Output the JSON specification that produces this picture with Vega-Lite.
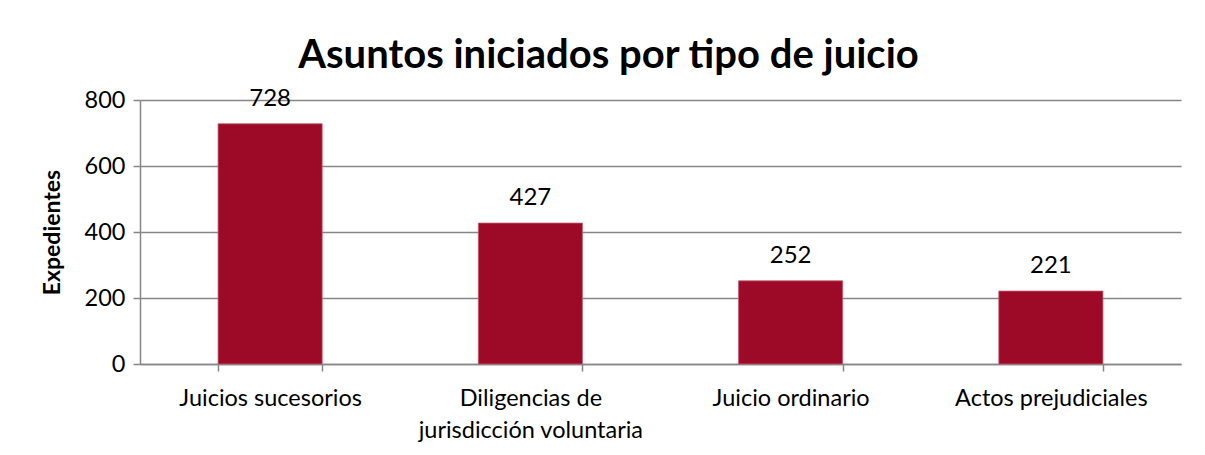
{
  "$schema": "https://vega.github.io/schema/vega-lite/v6.json",
  "width": 1041,
  "height": 264,
  "autosize": {"type": "none"},
  "padding": {"left": 140, "top": 100, "right": 24, "bottom": 91},
  "background": "white",
  "title": {
    "text": "Asuntos iniciados por tipo de juicio",
    "font": "Lato",
    "fontSize": 40,
    "fontWeight": "bold",
    "color": "#000000",
    "anchor": "middle",
    "dx": -52,
    "dy": 51,
    "baseline": "alphabetic",
    "offset": 30
  },
  "data": {
    "values": [
      {"tipo": "Juicios sucesorios", "expedientes": 728},
      {"tipo": "Diligencias de jurisdicción voluntaria", "expedientes": 427},
      {"tipo": "Juicio ordinario", "expedientes": 252},
      {"tipo": "Actos prejudiciales", "expedientes": 221}
    ]
  },
  "encoding": {
    "x": {
      "field": "tipo",
      "type": "nominal",
      "sort": null,
      "scale": {"paddingInner": 0.6, "paddingOuter": 0.3},
      "axis": {
        "title": null,
        "labelAngle": 0,
        "labelFont": "Lato",
        "labelFontSize": 23.5,
        "labelColor": "#000000",
        "labelPadding": 15,
        "labelBaseline": "top",
        "labelLineHeight": 32,
        "labelLimit": 0,
        "labelExpr": "datum.label == 'Diligencias de jurisdicción voluntaria' ? ['Diligencias de', 'jurisdicción voluntaria'] : datum.label",
        "domainColor": "#868686",
        "domainWidth": 1.5,
        "tickColor": "#868686",
        "tickWidth": 1.5,
        "tickSize": 7,
        "tickBand": "extent",
        "grid": false
      }
    },
    "y": {
      "field": "expedientes",
      "type": "quantitative",
      "scale": {"domain": [0, 800]},
      "axis": {
        "title": "Expedientes",
        "titleFont": "Lato",
        "titleFontSize": 23,
        "titleFontWeight": "bold",
        "titleColor": "#000000",
        "titlePadding": 20,
        "values": [0, 200, 400, 600, 800],
        "labelFont": "Lato",
        "labelFontSize": 23.5,
        "labelColor": "#000000",
        "labelPadding": 8,
        "domainColor": "#868686",
        "domainWidth": 1.5,
        "tickColor": "#868686",
        "tickWidth": 1.5,
        "tickSize": 7,
        "gridColor": "#868686",
        "gridWidth": 1.5
      }
    }
  },
  "layer": [
    {
      "mark": {"type": "bar", "color": "#9C0A27", "stroke": "#C45A6E", "strokeWidth": 0.8}
    },
    {
      "mark": {"type": "text", "baseline": "bottom", "dy": -13, "font": "Lato", "fontSize": 24, "color": "#000000"},
      "encoding": {"text": {"field": "expedientes", "type": "quantitative"}}
    }
  ],
  "config": {"view": {"stroke": null}}
}
